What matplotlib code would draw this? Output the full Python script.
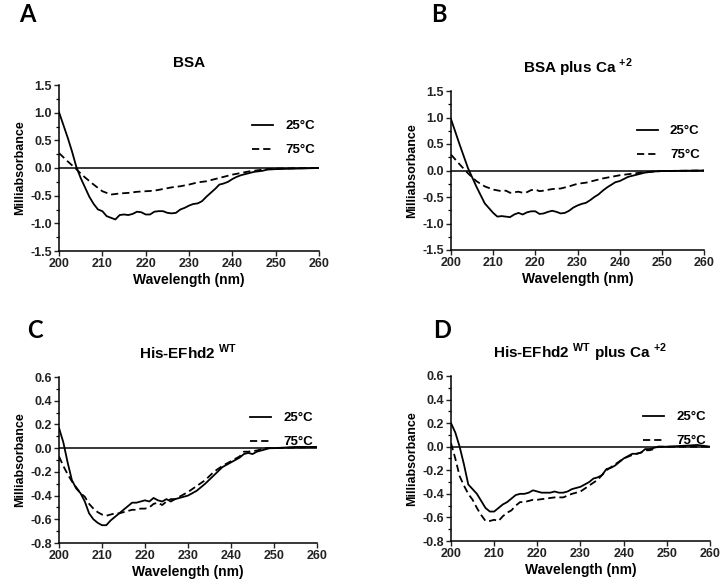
import matplotlib
matplotlib.use("Agg")
import matplotlib.pyplot as plt
from matplotlib.ticker import MultipleLocator, FormatStrFormatter

plt.rcParams["font.family"] = ["Liberation Sans", "DejaVu Sans"]
plt.rcParams["font.weight"] = "bold"
plt.rcParams["mathtext.fontset"] = "custom"
plt.rcParams["mathtext.rm"] = "Liberation Sans:bold"
plt.rcParams["mathtext.bf"] = "Liberation Sans:bold"

# ---- data ----
wl_a = [200, 202, 203, 204, 205, 206, 207, 208, 209, 210, 211, 212, 213, 214, 215, 216,
        217, 218, 219, 220, 221, 222, 223, 224, 225, 226, 227, 228, 229, 230, 231, 232,
        233, 234, 235, 236, 237, 238, 239, 240, 241, 242, 243, 244, 245, 246, 247, 248,
        250, 255, 260]
bsa_25 = [1.01, 0.55, 0.3, 0.02, -0.18, -0.35, -0.52, -0.65, -0.75, -0.78, -0.87, -0.9,
          -0.93, -0.85, -0.84, -0.85, -0.83, -0.79, -0.8, -0.84, -0.84, -0.79, -0.78,
          -0.78, -0.81, -0.82, -0.81, -0.75, -0.72, -0.68, -0.65, -0.64, -0.6, -0.52,
          -0.45, -0.38, -0.3, -0.28, -0.25, -0.2, -0.16, -0.13, -0.11, -0.09, -0.07,
          -0.06, -0.05, -0.03, -0.02, -0.01, 0.0]
wl_a75 = [200, 202, 204, 205, 206, 208, 210, 212, 214, 216, 218, 220, 222, 224, 226, 228,
          230, 232, 234, 236, 238, 240, 242, 244, 246, 248, 250, 260]
bsa_75 = [0.27, 0.12, -0.02, -0.1, -0.17, -0.3, -0.42, -0.48, -0.46, -0.45, -0.43, -0.42,
          -0.41, -0.38, -0.35, -0.33, -0.3, -0.26, -0.24, -0.2, -0.16, -0.12, -0.09,
          -0.06, -0.04, -0.02, -0.01, 0.0]

wl_b = [200, 202, 204, 206, 208, 210, 211, 212, 213, 214, 215, 216, 217, 218, 219, 220,
        221, 222, 223, 224, 225, 226, 227, 228, 229, 230, 231, 232, 233, 234, 235, 236,
        237, 238, 239, 240, 241, 242, 243, 244, 245, 246, 248, 250, 260]
bsaca_25 = [0.97, 0.5, 0.05, -0.3, -0.62, -0.8, -0.87, -0.86, -0.87, -0.88, -0.83, -0.8,
            -0.83, -0.79, -0.77, -0.77, -0.82, -0.81, -0.78, -0.76, -0.78, -0.81, -0.8,
            -0.76, -0.7, -0.66, -0.63, -0.61, -0.56, -0.5, -0.45, -0.38, -0.32, -0.27,
            -0.22, -0.2, -0.16, -0.12, -0.1, -0.08, -0.06, -0.04, -0.02, -0.01, 0.0]
wl_b75 = [200, 202, 204, 206, 208, 210, 212, 213, 214, 215, 216, 217, 218, 219, 220, 221,
          222, 224, 226, 228, 230, 232, 234, 236, 238, 240, 242, 244, 246, 248, 250, 260]
bsaca_75 = [0.3, 0.12, -0.05, -0.2, -0.3, -0.36, -0.39, -0.38, -0.42, -0.41, -0.4, -0.42,
            -0.41, -0.37, -0.36, -0.39, -0.38, -0.35, -0.34, -0.3, -0.25, -0.23, -0.19,
            -0.15, -0.12, -0.09, -0.07, -0.05, -0.03, -0.02, -0.01, 0.0]

wl_c = [200, 201, 202, 203, 204, 205, 206, 207, 208, 209, 210, 211, 212, 213, 214, 215,
        216, 217, 218, 219, 220, 221, 222, 223, 224, 225, 226, 227, 228, 229, 230, 232,
        234, 236, 238, 240, 242, 243, 244, 245, 246, 247, 248, 249, 250, 255, 260]
wt_25 = [0.17, 0.05, -0.12, -0.27, -0.34, -0.38, -0.45, -0.55, -0.6, -0.63, -0.65, -0.65,
         -0.61, -0.58, -0.55, -0.52, -0.49, -0.46, -0.46, -0.45, -0.44, -0.45, -0.42,
         -0.44, -0.45, -0.43, -0.45, -0.43, -0.42, -0.41, -0.4, -0.36, -0.3, -0.23,
         -0.16, -0.12, -0.08, -0.05, -0.04, -0.05, -0.03, -0.02, -0.01, 0.0, 0.0, 0.01,
         0.01]
wl_c75 = [200, 201, 202, 203, 204, 205, 206, 207, 208, 209, 210, 211, 212, 213, 214, 215,
          216, 217, 218, 219, 220, 221, 222, 223, 224, 225, 226, 227, 228, 230, 232, 234,
          236, 238, 240, 242, 243, 244, 246, 248, 250, 260]
wt_75 = [-0.07, -0.15, -0.22, -0.28, -0.33, -0.38, -0.41, -0.47, -0.51, -0.54, -0.56,
         -0.57, -0.56, -0.55, -0.55, -0.54, -0.53, -0.52, -0.52, -0.51, -0.51, -0.5,
         -0.47, -0.46, -0.48, -0.45, -0.43, -0.43, -0.41, -0.37, -0.32, -0.27, -0.2,
         -0.15, -0.11, -0.07, -0.03, -0.03, -0.02, 0.0, 0.0, 0.01]

wl_d = [200, 201, 202, 203, 204, 205, 206, 207, 208, 209, 210, 211, 212, 213, 214, 215,
        216, 217, 218, 219, 220, 221, 222, 223, 224, 225, 226, 227, 228, 229, 230, 231,
        232, 233, 234, 235, 236, 237, 238, 239, 240, 241, 242, 243, 244, 245, 246, 247,
        248, 250, 255, 257, 260]
wtca_25 = [0.2, 0.12, 0.0, -0.15, -0.32, -0.36, -0.4, -0.46, -0.52, -0.55, -0.55, -0.52,
           -0.49, -0.47, -0.44, -0.41, -0.4, -0.4, -0.39, -0.37, -0.38, -0.39, -0.39,
           -0.39, -0.38, -0.39, -0.39, -0.38, -0.36, -0.35, -0.34, -0.32, -0.3, -0.27,
           -0.26, -0.24, -0.19, -0.18, -0.16, -0.13, -0.1, -0.08, -0.06, -0.06, -0.05,
           -0.02, -0.02, -0.01, 0.0, 0.0, 0.01, 0.015, 0.0]
wl_d75 = [200, 201, 202, 203, 204, 205, 206, 207, 208, 209, 210, 211, 212, 213, 214, 215,
          216, 217, 218, 219, 220, 222, 224, 226, 228, 230, 232, 234, 236, 238, 240, 242,
          244, 245, 246, 247, 248, 250, 260]
wtca_75 = [0.03, -0.1, -0.25, -0.33, -0.4, -0.45, -0.52, -0.58, -0.63, -0.63, -0.62,
           -0.63, -0.59, -0.56, -0.54, -0.5, -0.47, -0.47, -0.46, -0.45, -0.45, -0.44,
           -0.43, -0.43, -0.4, -0.38, -0.33, -0.28, -0.2, -0.15, -0.1, -0.07, -0.05,
           -0.03, -0.03, -0.02, 0.0, 0.0, 0.0]

titles = ["BSA", r"BSA plus Ca $^{+2}$", r"His-EFhd2 $^{\mathrm{WT}}$",
          r"His-EFhd2 $^{\mathrm{WT}}$ plus Ca $^{+2}$"]
letters = ["A", "B", "C", "D"]
legend_labels = ["25°C", "75°C"]

panels = [
    (wl_a, bsa_25, wl_a75, bsa_75),
    (wl_b, bsaca_25, wl_b75, bsaca_75),
    (wl_c, wt_25, wl_c75, wt_75),
    (wl_d, wtca_25, wl_d75, wtca_75),
]
# ymin, ymax, major step, minor step
ylims = [(-1.5, 1.5, 0.5, 0.25), (-1.5, 1.5, 0.5, 0.25),
         (-0.8, 0.6, 0.2, 0.1), (-0.8, 0.6, 0.2, 0.1)]

W, H = 724, 586
# axes boxes in pixels: left, right, top, bottom
boxes = [(59, 319, 85, 251), (451, 704, 91, 250), (59, 317, 377, 543), (451, 710, 376, 541)]
letter_pos = [(19, 15), (431, 15), (27, 330), (433, 330)]

fig = plt.figure(figsize=(W / 100, H / 100), dpi=100)

for i, (box, data, lim) in enumerate(zip(boxes, panels, ylims)):
    l, r, t, b = box
    ax = fig.add_axes([l / W, 1 - b / H, (r - l) / W, (b - t) / H])
    x25, y25, x75, y75 = data
    ax.axhline(0, color="black", lw=1.1)
    ax.plot(x25, y25, color="black", lw=1.3, label=legend_labels[0])
    ax.plot(x75, y75, color="black", lw=1.3, dashes=(4, 2.2), label=legend_labels[1])
    ax.set_xlim(200, 260)
    ax.set_ylim(lim[0], lim[1])
    ax.xaxis.set_major_locator(MultipleLocator(10))
    ax.yaxis.set_major_locator(MultipleLocator(lim[2]))
    ax.yaxis.set_minor_locator(MultipleLocator(lim[3]))
    ax.yaxis.set_major_formatter(FormatStrFormatter("%.1f"))
    for s in ("top", "right"):
        ax.spines[s].set_visible(False)
    for s in ("left", "bottom"):
        ax.spines[s].set_linewidth(1.1)
    ax.tick_params(which="major", direction="out", length=3.5, width=1.0,
                   labelsize=9, pad=1.5, colors="#222222")
    ax.tick_params(which="minor", direction="out", length=2, width=0.9)
    for lab in ax.get_xticklabels() + ax.get_yticklabels():
        lab.set_fontweight("bold")
    ax.set_xlabel("Wavelength (nm)", fontsize=10, fontweight="bold", labelpad=2)
    ax.set_ylabel("Milliabsorbance", fontsize=9, fontweight="bold", labelpad=3)
    ax.set_title(titles[i], fontsize=11, fontweight="bold", pad=13)
    ax.legend(loc="upper right", bbox_to_anchor=(1.03, 0.86), frameon=False,
              handlelength=1.6, handletextpad=0.9, labelspacing=0.9,
              prop={"size": 9.5, "weight": "bold"})
    lx, ly = letter_pos[i]
    fig.text(lx / W, 1 - ly / H, letters[i], fontsize=17, fontweight="bold",
             family=["Lato", "DejaVu Sans"], ha="left", va="center")

fig.savefig("out.png", dpi=100)
